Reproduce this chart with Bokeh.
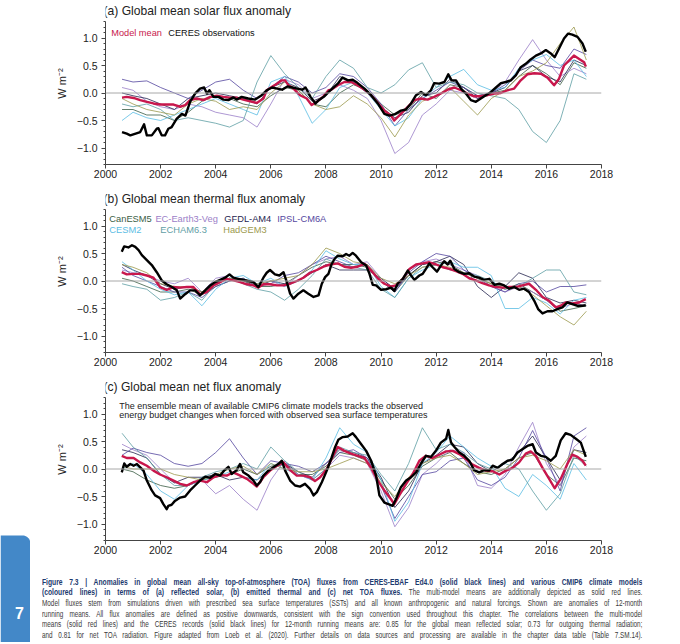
import numpy as np
from bokeh.plotting import figure
from bokeh.layouts import row, column
from bokeh.models import Range1d, FixedTicker, Span, Label, Div
from bokeh.embed import file_html
from bokeh.resources import INLINE
from bokeh.core.properties import value

# ---------------- data ----------------
model_names = ["CanESM5", "EC-Earth3-Veg", "GFDL-AM4", "IPSL-CM6A", "CESM2", "ECHAM6.3", "HadGEM3"]
model_colors = ["#3b5e45", "#9b80c8", "#262650", "#5548a0", "#5bbde4", "#5f9ea5", "#9c9a4e"]

model_years = [2000.6, 2001.0, 2001.5, 2002.0, 2002.5, 2003.0, 2003.5, 2004.0, 2004.5, 2005.0,
               2005.5, 2006.0, 2006.5, 2007.0, 2007.5, 2008.0, 2008.5, 2009.0, 2009.5, 2010.0,
               2010.5, 2011.0, 2011.5, 2012.0, 2012.5, 2013.0, 2013.5, 2014.0, 2014.5, 2015.0,
               2015.5, 2016.0, 2016.5, 2017.0, 2017.45]

# (a) solar
solar_models = {
    "CanESM5": [-0.3, -0.3, -0.4, -0.4, -0.5, -0.35, -0.15, -0.05, -0.1, -0.2, -0.25, -0.05, 0.1, 0.05, -0.2,
                -0.25, 0.0, 0.15, 0.05, -0.2, -0.4, -0.3, 0.0, -0.1, 0.15, 0.1, -0.05, 0.0, 0.05, 0.3,
                0.5, 0.35, 0.15, 0.55, 0.45],
    "EC-Earth3-Veg": [0.1, 0.05, -0.15, -0.25, -0.3, -0.2, -0.25, -0.35, -0.4, -0.45, -0.62, -0.2, 0.25, 0.15, -0.1,
                      0.0, 0.15, 0.05, -0.1, -0.5, -1.1, -0.9, -0.4, -0.2, 0.05, 0.0, -0.1, 0.0, 0.2, 0.6,
                      0.97, 0.6, 0.3, 0.45, 0.35],
    "GFDL-AM4": [0.0, -0.05, -0.1, -0.2, -0.3, -0.1, -0.05, 0.0, -0.05, -0.1, -0.2, 0.1, 0.2, 0.1, -0.15,
                 -0.05, 0.3, 0.2, 0.0, -0.25, -0.45, -0.35, -0.05, 0.0, 0.25, 0.1, -0.1, 0.0, 0.1, 0.4,
                 0.5, 0.3, 0.2, 0.6, 0.5],
    "IPSL-CM6A": [0.25, 0.2, 0.22, 0.1, 0.0, -0.1, 0.05, 0.2, 0.25, 0.05, -0.1, 0.1, 0.3, 0.2, 0.0,
                  0.1, 0.35, 0.3, 0.1, -0.2, -0.6, -0.3, -0.1, 0.05, 0.2, 0.1, -0.05, 0.0, 0.15, 0.4,
                  0.6, 0.5, 0.45, 0.8, 0.7],
    "CESM2": [-0.5, -0.35, -0.45, -0.5, -0.4, -0.3, -0.2, -0.1, -0.2, -0.3, -0.4, 0.2, 0.3, -0.05, -0.55,
              -0.3, 0.1, 0.2, 0.0, -0.3, -0.6, -0.45, -0.1, 0.1, 0.3, 0.43, 0.15, 0.05, 0.1, 0.45,
              0.6, 0.7, 0.5, 0.6, 0.3],
    "ECHAM6.3": [-0.2, -0.25, -0.2, -0.3, -0.5, -0.45, -0.5, -0.55, -0.62, -0.5, 0.2, 0.68, 0.35, 0.1, -0.1,
                 0.3, 0.6, 0.45, 0.1, 0.0, 0.15, 0.42, 0.55, 0.1, 0.2, 0.15, 0.0, -0.05, -0.1, -0.3,
                 -0.7, -0.9, -0.5, 0.35, 0.25],
    "HadGEM3": [-0.1, -0.2, -0.3, -0.35, -0.4, -0.2, -0.1, -0.15, -0.3, -0.25, -0.3, 0.0, 0.2, 0.05, -0.2,
                -0.3, -0.25, -0.05, -0.2, -0.45, -0.8, -0.4, -0.15, -0.05, 0.1, -0.15, -0.4, -0.1, 0.05, 0.3,
                0.4, 0.55, 0.9, 1.2, 0.6],
}
solar_mean = [(2000.6, -0.085), (2000.77, -0.07), (2001.02, -0.09), (2001.26, -0.13), (2001.5, -0.16),
              (2001.74, -0.19), (2001.98, -0.21), (2002.22, -0.21), (2002.47, -0.21), (2002.71, -0.25),
              (2002.89, -0.22), (2003.07, -0.13), (2003.31, -0.10), (2003.55, -0.13), (2003.8, -0.07),
              (2004.04, -0.05), (2004.28, -0.07), (2004.52, -0.085), (2004.76, -0.085), (2005.0, -0.12),
              (2005.25, -0.15), (2005.49, -0.18), (2005.73, -0.10), (2005.85, 0.05), (2006.03, 0.11),
              (2006.22, 0.17), (2006.4, 0.23), (2006.52, 0.23), (2006.64, 0.14), (2006.82, 0.08),
              (2007.06, -0.04), (2007.3, -0.10), (2007.48, -0.22), (2007.67, -0.16), (2007.91, -0.06),
              (2008.09, 0.05), (2008.19, 0.06), (2008.43, 0.14), (2008.67, 0.20), (2008.91, 0.20),
              (2009.15, 0.14), (2009.4, 0.06), (2009.64, -0.04), (2009.88, -0.18), (2010.12, -0.32),
              (2010.36, -0.41), (2010.48, -0.50), (2010.72, -0.38), (2010.97, -0.25), (2011.21, -0.13),
              (2011.45, -0.10), (2011.69, -0.12), (2011.93, -0.07), (2012.17, -0.01), (2012.42, 0.06),
              (2012.66, 0.10), (2012.9, 0.05), (2013.14, -0.01), (2013.38, -0.06), (2013.62, -0.06),
              (2013.86, -0.04), (2014.11, -0.01), (2014.35, 0.00), (2014.59, 0.05), (2014.83, 0.08),
              (2015.07, 0.23), (2015.31, 0.34), (2015.56, 0.36), (2015.8, 0.35), (2016.04, 0.28),
              (2016.28, 0.14), (2016.46, 0.26), (2016.64, 0.50), (2016.82, 0.59), (2017.0, 0.68),
              (2017.19, 0.62), (2017.37, 0.56), (2017.43, 0.48)]
solar_ceres = [(2000.6, -0.71), (2000.77, -0.74), (2000.9, -0.77), (2001.26, -0.71), (2001.4, -0.57),
               (2001.5, -0.77), (2001.68, -0.77), (2001.86, -0.65), (2001.92, -0.64), (2002.04, -0.77),
               (2002.16, -0.77), (2002.28, -0.65), (2002.4, -0.62), (2002.58, -0.47), (2002.77, -0.38),
               (2002.9, -0.41), (2003.07, -0.16), (2003.25, -0.01), (2003.43, 0.08), (2003.58, 0.10),
               (2003.68, -0.01), (2003.77, 0.05), (2003.92, -0.07), (2004.1, -0.07), (2004.28, -0.12),
               (2004.46, -0.13), (2004.64, -0.08), (2004.76, -0.12), (2004.94, -0.07), (2005.18, -0.10),
               (2005.43, -0.12), (2005.67, -0.04), (2005.85, 0.05), (2006.05, 0.10), (2006.23, 0.08),
               (2006.41, 0.06), (2006.6, 0.12), (2006.78, 0.10), (2006.96, 0.08), (2007.14, 0.06),
               (2007.26, 0.10), (2007.44, -0.07), (2007.62, -0.19), (2007.74, -0.13), (2007.92, -0.07),
               (2008.1, 0.02), (2008.43, 0.17), (2008.6, 0.28), (2008.8, 0.23), (2008.97, 0.24),
               (2009.15, 0.18), (2009.4, 0.08), (2009.64, -0.04), (2009.88, -0.19), (2010.12, -0.38),
               (2010.3, -0.41), (2010.48, -0.39), (2010.72, -0.32), (2010.9, -0.30), (2011.09, -0.19),
               (2011.27, -0.04), (2011.45, 0.02), (2011.63, -0.04), (2011.81, 0.05), (2011.93, 0.18),
               (2012.11, 0.17), (2012.3, 0.20), (2012.44, 0.34), (2012.56, 0.23), (2012.72, 0.23),
               (2012.9, 0.08), (2013.08, -0.01), (2013.26, -0.13), (2013.44, -0.16), (2013.62, -0.10),
               (2013.8, -0.04), (2013.99, 0.02), (2014.17, 0.10), (2014.35, 0.18), (2014.53, 0.20),
               (2014.71, 0.23), (2014.89, 0.32), (2015.07, 0.47), (2015.25, 0.53), (2015.43, 0.61),
               (2015.62, 0.68), (2015.8, 0.72), (2015.98, 0.78), (2016.16, 0.72), (2016.3, 0.65),
               (2016.46, 0.81), (2016.64, 0.99), (2016.79, 1.08), (2016.94, 1.06), (2017.13, 1.02),
               (2017.31, 0.90), (2017.43, 0.75)]

# (b) thermal
thermal_models = {
    "CanESM5": [0.05, 0.0, -0.1, -0.2, -0.2, -0.15, -0.25, -0.1, 0.0, 0.05, -0.1, -0.1, -0.05, 0.1, 0.25,
                0.35, 0.3, 0.3, 0.25, 0.0, -0.2, 0.1, 0.3, 0.35, 0.3, 0.15, 0.05, -0.05, -0.15, -0.05,
                -0.2, -0.35, -0.55, -0.5, -0.45],
    "EC-Earth3-Veg": [0.2, 0.15, 0.1, 0.0, -0.05, 0.05, -0.2, 0.05, 0.1, 0.0, -0.05, 0.0, -0.1, 0.1, 0.3,
                      0.4, 0.45, 0.3, 0.35, 0.05, -0.15, 0.2, 0.35, 0.4, 0.3, 0.2, 0.1, -0.1, -0.2, -0.1,
                      -0.2, -0.35, -0.5, -0.4, -0.45],
    "GFDL-AM4": [0.3, 0.2, 0.1, -0.05, -0.15, -0.1, -0.2, -0.05, 0.05, 0.0, -0.1, 0.0, -0.05, 0.0, 0.15,
                 0.3, 0.2, 0.2, 0.2, 0.05, -0.15, 0.1, 0.3, 0.35, 0.45, 0.3, -0.1, -0.3, -0.1, 0.15,
                 0.05, -0.3, -0.4, -0.35, -0.4],
    "IPSL-CM6A": [0.25, 0.1, 0.0, -0.1, -0.2, -0.2, -0.3, -0.1, 0.0, 0.05, -0.1, -0.05, 0.1, 0.15, 0.3,
                  0.45, 0.35, 0.25, 0.3, 0.0, -0.2, 0.15, 0.35, 0.5, 0.45, 0.2, 0.05, -0.1, -0.2, -0.05,
                  0.0, -0.2, -0.1, -0.1, -0.07],
    "CESM2": [0.35, 0.2, 0.0, -0.15, -0.25, -0.2, -0.45, -0.15, 0.05, 0.1, -0.05, 0.05, -0.1, 0.0, 0.2,
              0.55, 0.4, 0.3, 0.3, -0.1, -0.3, 0.05, 0.2, 0.3, 0.35, 0.25, 0.25, 0.1, -0.5, -0.5,
              -0.3, -0.4, -0.6, -0.35, -0.3],
    "ECHAM6.3": [-0.05, -0.1, -0.15, -0.35, -0.3, -0.2, -0.35, -0.05, 0.05, -0.05, -0.15, -0.2, -0.35, -0.15, 0.1,
                 0.4, 0.3, 0.25, 0.2, -0.15, -0.3, 0.05, 0.25, 0.3, 0.2, 0.15, 0.1, 0.0, -0.15, -0.1,
                 0.05, 0.2, 0.2, -0.2, -0.25],
    "HadGEM3": [0.3, 0.25, 0.15, -0.05, -0.1, -0.1, -0.2, 0.0, 0.05, 0.0, -0.05, 0.0, 0.05, 0.1, 0.3,
                0.6, 0.5, 0.35, 0.3, 0.05, -0.05, 0.1, 0.25, 0.3, 0.25, 0.15, 0.05, -0.05, -0.1, -0.1,
                -0.25, -0.45, -0.65, -0.8, -0.55],
}
thermal_mean = [(2000.59, 0.16), (2000.77, 0.12), (2001.02, 0.13), (2001.26, 0.13), (2001.5, 0.10),
                (2001.74, 0.06), (2001.98, -0.11), (2002.22, -0.16), (2002.47, -0.11), (2002.71, -0.12),
                (2002.95, -0.11), (2003.19, -0.11), (2003.43, -0.24), (2003.68, -0.20), (2003.92, -0.08),
                (2004.16, -0.02), (2004.4, 0.04), (2004.64, 0.01), (2004.89, -0.02), (2005.13, -0.06),
                (2005.37, -0.08), (2005.55, -0.12), (2005.73, -0.06), (2005.97, -0.06), (2006.22, -0.08),
                (2006.46, -0.08), (2006.7, -0.05), (2006.94, 0.0), (2007.18, 0.06), (2007.42, 0.15),
                (2007.67, 0.20), (2007.91, 0.26), (2008.15, 0.30), (2008.43, 0.32), (2008.67, 0.26),
                (2008.91, 0.24), (2009.15, 0.26), (2009.4, 0.31), (2009.64, 0.19), (2009.88, 0.05),
                (2010.12, -0.05), (2010.36, -0.10), (2010.54, -0.08), (2010.79, 0.04), (2011.03, 0.22),
                (2011.27, 0.30), (2011.51, 0.32), (2011.75, 0.34), (2012.0, 0.30), (2012.24, 0.25),
                (2012.48, 0.22), (2012.72, 0.18), (2012.96, 0.13), (2013.2, 0.05), (2013.44, 0.01),
                (2013.68, -0.04), (2013.92, -0.08), (2014.17, -0.11), (2014.41, -0.12), (2014.65, -0.11),
                (2014.89, -0.11), (2015.13, -0.08), (2015.37, -0.05), (2015.62, -0.16), (2015.86, -0.29),
                (2016.1, -0.36), (2016.34, -0.48), (2016.52, -0.45), (2016.7, -0.39), (2016.94, -0.41),
                (2017.19, -0.39), (2017.43, -0.33)]
thermal_ceres = [(2000.59, 0.53), (2000.68, 0.63), (2000.83, 0.61), (2000.96, 0.65), (2001.08, 0.62),
                 (2001.2, 0.56), (2001.32, 0.47), (2001.5, 0.38), (2001.68, 0.29), (2001.86, 0.16),
                 (2002.04, 0.01), (2002.22, -0.06), (2002.41, -0.11), (2002.59, -0.17), (2002.71, -0.32),
                 (2002.89, -0.24), (2003.07, -0.17), (2003.25, -0.17), (2003.43, -0.26), (2003.62, -0.17),
                 (2003.8, -0.08), (2003.98, -0.02), (2004.16, 0.02), (2004.34, 0.06), (2004.5, 0.12),
                 (2004.64, 0.06), (2004.82, 0.04), (2005.0, 0.02), (2005.19, 0.0), (2005.37, -0.02),
                 (2005.55, -0.11), (2005.73, 0.06), (2005.85, 0.15), (2005.97, 0.20), (2006.15, 0.12),
                 (2006.31, 0.10), (2006.46, 0.16), (2006.58, -0.02), (2006.7, -0.23), (2006.82, -0.32),
                 (2007.0, -0.23), (2007.18, -0.17), (2007.36, -0.23), (2007.55, -0.29), (2007.73, -0.26),
                 (2007.85, -0.05), (2007.97, 0.07), (2008.09, 0.13), (2008.2, 0.30), (2008.31, 0.40),
                 (2008.43, 0.46), (2008.61, 0.45), (2008.73, 0.49), (2008.85, 0.46), (2008.97, 0.51),
                 (2009.09, 0.46), (2009.28, 0.34), (2009.46, 0.28), (2009.58, 0.13), (2009.7, -0.07),
                 (2009.82, -0.08), (2010.0, -0.16), (2010.18, -0.15), (2010.36, -0.12), (2010.48, -0.18),
                 (2010.6, -0.05), (2010.79, 0.04), (2010.97, 0.19), (2011.09, 0.10), (2011.21, 0.02),
                 (2011.39, 0.10), (2011.51, 0.13), (2011.63, 0.22), (2011.75, 0.32), (2011.87, 0.25),
                 (2012.03, 0.17), (2012.17, 0.28), (2012.29, 0.36), (2012.42, 0.30), (2012.51, 0.37),
                 (2012.66, 0.22), (2012.84, 0.16), (2013.02, 0.13), (2013.2, 0.14), (2013.38, 0.08),
                 (2013.56, 0.06), (2013.74, 0.02), (2013.93, 0.04), (2014.11, -0.07), (2014.29, -0.05),
                 (2014.47, -0.08), (2014.65, -0.14), (2014.83, -0.11), (2015.01, -0.16), (2015.19, -0.14),
                 (2015.37, -0.20), (2015.56, -0.36), (2015.7, -0.51), (2015.86, -0.59), (2016.04, -0.55),
                 (2016.22, -0.55), (2016.4, -0.51), (2016.58, -0.48), (2016.76, -0.39), (2016.94, -0.42),
                 (2017.13, -0.45), (2017.31, -0.45), (2017.43, -0.44)]

# (c) net
net_models = {
    "CanESM5": [0.0, -0.05, -0.2, -0.3, -0.35, -0.3, -0.2, -0.15, -0.1, 0.0, -0.1, 0.05, 0.1, -0.1, -0.1,
                0.05, 0.3, 0.25, 0.15, -0.2, -0.55, -0.3, 0.05, 0.2, 0.3, 0.1, -0.05, -0.1, 0.0, 0.2,
                0.3, -0.1, -0.3, 0.2, 0.15],
    "EC-Earth3-Veg": [0.45, 0.35, 0.25, 0.0, -0.25, -0.3, -0.2, -0.45, -0.3, -0.55, -0.75, -0.2, 0.15, -0.1, -0.2,
                      0.0, 0.25, 0.2, 0.1, -0.4, -1.05, -0.7, -0.1, 0.1, 0.35, 0.3, -0.3, -0.35, -0.1, 0.4,
                      0.85, 0.1, -0.3, 0.4, 0.6],
    "GFDL-AM4": [0.35, 0.3, 0.2, -0.1, -0.25, -0.15, -0.15, -0.1, -0.2, -0.15, -0.2, 0.0, 0.1, -0.05, -0.15,
                 0.1, 0.35, 0.3, 0.2, -0.15, -0.7, -0.4, 0.1, 0.25, 0.45, 0.4, 0.1, -0.05, 0.1, 0.3,
                 0.6, 0.2, -0.2, 0.35, 0.3],
    "IPSL-CM6A": [0.25, 0.38, 0.3, 0.25, 0.1, 0.05, 0.1, 0.3, 0.55, 0.2, -0.1, 0.15, 0.1, 0.05, -0.05,
                  0.1, 0.3, 0.35, 0.2, -0.3, -0.9, -0.5, -0.1, -0.05, 0.15, 0.2, -0.2, -0.3, -0.15, 0.2,
                  0.7, 0.2, -0.4, 0.6, 0.75],
    "CESM2": [0.0, 0.1, -0.1, -0.4, -0.55, -0.3, -0.2, -0.15, -0.05, -0.15, -0.2, 0.1, 0.0, -0.1, -0.2,
              0.2, 0.75, 0.45, 0.3, -0.2, -0.95, -0.6, 0.1, 0.3, 0.6, 0.4, 0.2, 0.05, -0.35, -0.5,
              -0.1, -0.3, -0.55, 0.1, -0.2],
    "ECHAM6.3": [0.65, 0.4, 0.2, -0.1, -0.3, -0.3, -0.15, -0.05, 0.0, 0.1, 0.0, 0.4, 0.15, -0.05, -0.2,
                 0.0, 0.4, 0.3, 0.25, -0.1, -0.4, 0.1, 0.75, 0.35, 0.45, 0.3, 0.1, 0.0, 0.1, 0.0,
                 -0.4, -0.75, -0.45, 0.25, 0.05],
    "HadGEM3": [0.05, 0.0, 0.0, 0.0, -0.1, -0.15, -0.2, -0.1, 0.0, 0.05, -0.1, 0.1, 0.0, -0.05, -0.05,
                0.0, 0.1, 0.2, 0.1, -0.25, -0.5, -0.15, 0.1, 0.2, 0.25, 0.1, -0.1, -0.05, 0.0, 0.2,
                0.25, 0.15, 0.0, 0.35, 0.25],
}
net_mean = [(2000.59, 0.24), (2000.77, 0.20), (2001.02, 0.20), (2001.26, 0.12), (2001.5, 0.06),
            (2001.74, -0.03), (2001.98, -0.10), (2002.22, -0.15), (2002.47, -0.21), (2002.71, -0.27),
            (2002.95, -0.30), (2003.19, -0.24), (2003.43, -0.21), (2003.68, -0.24), (2003.92, -0.15),
            (2004.16, -0.11), (2004.4, -0.12), (2004.64, -0.06), (2004.89, -0.12), (2005.13, -0.18),
            (2005.37, -0.27), (2005.49, -0.32), (2005.73, -0.15), (2005.97, -0.03), (2006.22, 0.06),
            (2006.46, 0.12), (2006.7, -0.02), (2006.94, -0.12), (2007.18, -0.12), (2007.42, -0.15),
            (2007.6, -0.22), (2007.79, -0.15), (2008.03, 0.0), (2008.27, 0.25), (2008.43, 0.40),
            (2008.67, 0.33), (2008.91, 0.28), (2009.15, 0.24), (2009.4, 0.20), (2009.64, 0.02),
            (2009.88, -0.21), (2010.12, -0.39), (2010.36, -0.55), (2010.48, -0.64), (2010.66, -0.48),
            (2010.91, -0.27), (2011.15, -0.09), (2011.39, 0.15), (2011.63, 0.24), (2011.87, 0.20),
            (2012.11, 0.26), (2012.36, 0.32), (2012.6, 0.33), (2012.84, 0.27), (2013.08, 0.18),
            (2013.32, 0.08), (2013.56, 0.02), (2013.8, -0.03), (2014.05, -0.04), (2014.29, -0.10),
            (2014.53, -0.03), (2014.77, 0.02), (2015.01, 0.12), (2015.25, 0.28), (2015.43, 0.32),
            (2015.62, 0.24), (2015.86, 0.02), (2016.1, -0.18), (2016.3, -0.35), (2016.52, -0.18),
            (2016.76, 0.09), (2016.94, 0.26), (2017.13, 0.22), (2017.31, 0.15), (2017.43, 0.06)]
net_ceres = [(2000.59, -0.06), (2000.68, 0.10), (2000.77, 0.04), (2000.9, 0.09), (2001.02, 0.06),
             (2001.14, 0.09), (2001.26, 0.03), (2001.38, -0.03), (2001.5, -0.21), (2001.68, -0.39),
             (2001.8, -0.48), (2001.98, -0.53), (2002.1, -0.64), (2002.22, -0.73), (2002.28, -0.67),
             (2002.4, -0.65), (2002.52, -0.58), (2002.71, -0.52), (2002.89, -0.50), (2003.07, -0.39),
             (2003.25, -0.30), (2003.43, -0.21), (2003.62, -0.14), (2003.8, -0.16), (2003.98, -0.09),
             (2004.16, -0.12), (2004.3, -0.03), (2004.46, 0.04), (2004.58, -0.09), (2004.76, -0.02),
             (2004.88, 0.09), (2005.0, -0.06), (2005.19, -0.12), (2005.37, -0.21), (2005.49, -0.30),
             (2005.61, -0.24), (2005.73, -0.12), (2005.91, -0.03), (2006.09, 0.03), (2006.27, 0.09),
             (2006.4, 0.15), (2006.52, -0.03), (2006.7, -0.21), (2006.88, -0.30), (2007.06, -0.32),
             (2007.24, -0.27), (2007.42, -0.36), (2007.55, -0.48), (2007.67, -0.42), (2007.85, -0.24),
             (2008.03, -0.03), (2008.2, 0.20), (2008.32, 0.38), (2008.45, 0.53), (2008.61, 0.58),
             (2008.79, 0.59), (2008.97, 0.65), (2009.09, 0.58), (2009.28, 0.45), (2009.46, 0.33),
             (2009.64, 0.15), (2009.82, -0.12), (2009.94, -0.48), (2010.12, -0.61), (2010.27, -0.64),
             (2010.42, -0.67), (2010.54, -0.55), (2010.72, -0.33), (2010.91, -0.21), (2011.09, -0.15),
             (2011.27, -0.06), (2011.45, 0.10), (2011.63, 0.24), (2011.81, 0.22), (2011.99, 0.33),
             (2012.17, 0.48), (2012.36, 0.55), (2012.44, 0.71), (2012.54, 0.48), (2012.68, 0.39),
             (2012.84, 0.30), (2013.02, 0.24), (2013.2, 0.15), (2013.38, -0.02), (2013.56, -0.06),
             (2013.74, -0.02), (2013.92, -0.03), (2014.05, 0.06), (2014.23, 0.02), (2014.41, 0.09),
             (2014.59, 0.15), (2014.77, 0.17), (2014.95, 0.30), (2015.13, 0.36), (2015.31, 0.42),
             (2015.5, 0.45), (2015.62, 0.30), (2015.8, 0.24), (2015.98, 0.22), (2016.16, 0.15),
             (2016.34, 0.24), (2016.52, 0.52), (2016.7, 0.65), (2016.88, 0.62), (2017.07, 0.55),
             (2017.25, 0.48), (2017.43, 0.22)]

x_ticks = [2000, 2002, 2004, 2006, 2008, 2010, 2012, 2014, 2016, 2018]
y_ticks = [-1.0, -0.5, 0.0, 0.5, 1.0]
y_tick_labels = {-1.0: "\u22121.0", -0.5: "\u22120.5", 0.0: "0.0", 0.5: "0.5", 1.0: "1.0"}

titles = ["(a) Global mean solar flux anomaly",
          "(b) Global mean thermal flux anomaly",
          "(c) Global mean net flux anomaly"]
note_lines = ["The ensemble mean of available CMIP6 climate models tracks the observed",
              "energy budget changes when forced with observed sea surface temperatures"]

caption_bold_1 = ("Figure 7.3 | Anomalies in global mean all-sky top-of-atmosphere (TOA) fluxes from "
                  "CERES-EBAF Ed4.0 (solid black lines) and various CMIP6 climate models")
caption_bold_2 = "(coloured lines) in terms of (a) reflected solar, (b) emitted thermal and (c) net TOA fluxes."
caption_tail_2 = "The multi-model means are additionally depicted as solid red lines."
caption_rest = [
    "Model fluxes stem from simulations driven with prescribed sea surface temperatures (SSTs) and all known "
    "anthropogenic and natural forcings. Shown are anomalies of 12-month",
    "running means. All flux anomalies are defined as positive downwards, consistent with the sign convention "
    "used throughout this chapter. The correlations between the multi-model",
    "means (solid red lines) and the CERES records (solid black lines) for 12-month running means are: 0.85 for "
    "the global mean reflected solar; 0.73 for outgoing thermal radiation;",
    "and 0.81 for net TOA radiation. Figure adapted from Loeb et al. (2020). Further details on data sources and "
    "processing are available in the chapter data table (Table 7.SM.14).",
]

# ---------------- styling ----------------
FONT = "Liberation Sans"
MEAN_COLOR = "#c8174c"
SW = 30                      # chapter-tab strip width
PW, PH = 640, 188            # panel size
BL, BR, BT, BB = 75, 69, 2, 24
UNIT = 55.0
YTOP = -1.3 + (PH - BT - BB) / UNIT
CW, CH = 640, 78             # caption size
TOTAL_H = 3 * PH + CH


def make_panel(idx, models, mean, ceres):
    p = figure(width=PW, height=PH, x_range=Range1d(2000, 2018), y_range=Range1d(-1.3, YTOP),
               output_backend="svg", toolbar_location=None, title=None,
               min_border_left=BL, min_border_right=BR, min_border_top=BT, min_border_bottom=BB)
    p.outline_line_color = None
    p.xgrid.visible = False
    p.ygrid.visible = False
    p.add_layout(Span(location=0, dimension="width", line_color="#a8a8a8", line_width=1))
    for name, col in zip(model_names, model_colors):
        p.line(model_years, models[name], line_color=col, line_width=0.9, line_alpha=0.9,
               line_join="round")
    mx, my = zip(*mean)
    p.line(list(mx), list(my), line_color=MEAN_COLOR, line_width=2.4, line_join="round")
    cx, cy = zip(*ceres)
    p.line(list(cx), list(cy), line_color="black", line_width=2.4, line_join="round")

    xa = p.xaxis[0]
    xa.ticker = FixedTicker(ticks=x_ticks)
    xa.major_tick_in = 0
    xa.major_tick_out = 4
    xa.minor_tick_line_color = None
    xa.axis_line_color = "#444444"
    xa.major_tick_line_color = "#444444"
    xa.major_label_text_font = FONT
    xa.major_label_text_font_size = "10.5px"
    xa.major_label_text_color = "#222222"
    xa.major_label_standoff = 1

    ya = p.yaxis[0]
    ya.ticker = FixedTicker(ticks=y_ticks, minor_ticks=[round(v, 1) for v in np.arange(-1.3, 1.31, 0.1)])
    ya.bounds = (-1.3, 1.3)
    ya.major_label_overrides = y_tick_labels
    ya.major_tick_in = 0
    ya.major_tick_out = 4
    ya.minor_tick_in = 0
    ya.minor_tick_out = 2
    ya.axis_line_color = "#444444"
    ya.major_tick_line_color = "#444444"
    ya.minor_tick_line_color = "#444444"
    ya.major_label_text_font = FONT
    ya.major_label_text_font_size = "10.5px"
    ya.major_label_text_color = "#222222"
    ya.major_label_standoff = 4
    ya.axis_label = "W m\u207b\u00b2"
    ya.axis_label_text_font = FONT
    ya.axis_label_text_font_size = "11px"
    ya.axis_label_text_font_style = "normal"
    ya.axis_label_text_color = "#222222"
    ya.axis_label_standoff = 6

    p.add_layout(Label(x=2000, y=1.485, x_offset=-2, text=titles[idx], text_font=FONT,
                       text_font_size="12.1px", text_baseline="middle", text_color="#222222"))
    return p


pa = make_panel(0, solar_models, solar_mean, solar_ceres)
pa.add_layout(Label(x=2000.21, y=1.085, text="Model mean", text_font=FONT, text_font_size="9.2px",
                    text_baseline="middle", text_color=MEAN_COLOR))
pa.add_layout(Label(x=2002.28, y=1.085, text="CERES observations", text_font=FONT, text_font_size="9.2px",
                    text_baseline="middle", text_color="#111111"))

pb = make_panel(1, thermal_models, thermal_mean, thermal_ceres)
leg_pos = [(2000.14, 1.12), (2001.81, 1.12), (2004.31, 1.12), (2006.23, 1.12),
           (2000.14, 0.92), (2001.99, 0.92), (2004.27, 0.92)]
for name, col, (lx, ly) in zip(model_names, model_colors, leg_pos):
    pb.add_layout(Label(x=lx, y=ly, text=name, text_font=FONT, text_font_size="9.3px",
                        text_baseline="middle", text_color=col))

pc = make_panel(2, net_models, net_mean, net_ceres)
for i, t in enumerate(note_lines):
    pc.add_layout(Label(x=2000.5, y=1.15 - i * 0.165, text=t, text_font=FONT, text_font_size="9px",
                        text_baseline="middle", text_color="#222222"))

# caption: condensed, justified lines (HTML text)
LINE_W, SX = 790, 0.76
line_css = ("width:%dpx;height:10.7px;line-height:10.7px;overflow:hidden;white-space:normal;"
            "transform:scaleX(%.3f);transform-origin:0 0;text-align:justify;text-align-last:justify;"
            % (LINE_W, SX))
bold_css = "font-weight:bold;color:#1d3a6e;font-size:8.9px;"
cap_lines = ['<div style="%s%s">%s</div>' % (line_css, bold_css, caption_bold_1),
             '<div style="%s"><span style="%s">%s</span> %s</div>' % (line_css, bold_css, caption_bold_2,
                                                                      caption_tail_2)]
cap_lines += ['<div style="%s">%s</div>' % (line_css, t) for t in caption_rest]
cap_html = ('<div style="width:625px;overflow:hidden;padding:7.6px 0 0 7px;'
            "font-family:'Liberation Sans',Arial,sans-serif;font-size:8.4px;color:#3a3a3a;\">"
            + "".join(cap_lines) + "</div>")
cap = Div(text=cap_html, width=CW, height=CH)

# left chapter tab
strip = figure(width=SW, height=TOTAL_H, x_range=Range1d(0, SW), y_range=Range1d(TOTAL_H, 0),
               output_backend="svg", toolbar_location=None, title=None, min_border=0,
               x_axis_location=None, y_axis_location=None)
strip.outline_line_color = None
strip.xgrid.visible = False
strip.ygrid.visible = False
r = 8.0
top = 535.0
ang = np.linspace(-np.pi / 2, 0, 12)
tab_x = [0.0] + list(SW - r + r * np.cos(ang)) + [SW, 0.0]
tab_y = [top] + list(top + r + r * np.sin(ang)) + [TOTAL_H, TOTAL_H]
strip.patch(tab_x, tab_y, fill_color="#4388c8", line_color=None)
strip.text(x=[19], y=[612], text=["7"], text_font=value(FONT), text_font_size="16px",
           text_font_style="bold", text_color="white", text_align="center", text_baseline="middle")

layout = row(strip, column(pa, pb, pc, cap))
open("out.html", "w").write(file_html(layout, INLINE))
